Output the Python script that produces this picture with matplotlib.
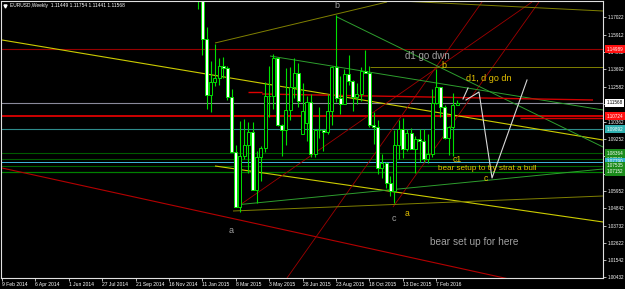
import matplotlib
matplotlib.use("Agg")
import matplotlib.pyplot as plt
import matplotlib.transforms as mtransforms
import numpy as np
import pandas as pd

plt.rcParams['font.family'] = ['Liberation Sans', 'DejaVu Sans']

# ---------------- data ----------------
header = "EURUSD,Weekly  1.11449 1.11754 1.11441 1.11568"
origin = pd.Timestamp("2014-02-09")          # first week on the time axis
bar_weeks = pd.date_range("2015-01-04", "2016-03-13", freq="W-SUN")

opens = [1.1950, 1.1840, 1.1565, 1.1205, 1.1290, 1.1315, 1.1390, 1.1380,
         1.1195, 1.0845, 1.0495, 1.0820, 1.0890, 1.0970, 1.0600, 1.0810, 1.0870,
         1.1200, 1.1200, 1.1445, 1.1015, 1.0985, 1.1110, 1.1260, 1.1350, 1.0955,
         1.1030, 1.1160, 1.0830, 1.0985, 1.0985, 1.0970, 1.1105, 1.1385, 1.1185,
         1.1150, 1.1340, 1.1295, 1.1195, 1.1210, 1.1360, 1.1350, 1.1015,
         1.1005, 1.0740, 1.0770, 1.0645, 1.0595, 1.0885, 1.0990, 1.0865, 1.0965,
         1.0860, 1.0925, 1.0915, 1.0795, 1.0830, 1.1155, 1.1255, 1.1130, 1.0930,
         1.1000, 1.11449]
highs = [1.1979, 1.1868, 1.1643, 1.1423, 1.1534, 1.1444, 1.1450, 1.1390,
         1.1245, 1.0890, 1.1043, 1.1052, 1.1034, 1.1037, 1.0850, 1.0880, 1.1290,
         1.1390, 1.1467, 1.1450, 1.1020, 1.1380, 1.1385, 1.1440, 1.1410, 1.1280,
         1.1200, 1.1215, 1.0990, 1.1130, 1.0990, 1.1215, 1.1390, 1.1714, 1.1330,
         1.1370, 1.1460, 1.1300, 1.1280, 1.1385, 1.1495, 1.1390, 1.1095,
         1.1045, 1.0830, 1.0780, 1.0690, 1.0980, 1.1045, 1.1060, 1.0990, 1.0995,
         1.0945, 1.0990, 1.0990, 1.0960, 1.1245, 1.1375, 1.1260, 1.1145, 1.1010,
         1.1220, 1.11754]
lows = [1.1754, 1.1460, 1.1115, 1.1098, 1.1262, 1.1270, 1.1315, 1.1177,
        1.0840, 1.0494, 1.0462, 1.0795, 1.0712, 1.0600, 1.0520, 1.0660, 1.0845,
        1.1065, 1.1120, 1.1010, 1.0820, 1.0890, 1.1050, 1.1190, 1.1130, 1.0955,
        1.0915, 1.0810, 1.0810, 1.0930, 1.0850, 1.0955, 1.1015, 1.1160, 1.1085,
        1.1150, 1.1270, 1.1105, 1.1150, 1.1170, 1.1350, 1.1000, 1.0895,
        1.0705, 1.0675, 1.0615, 1.0565, 1.0520, 1.0800, 1.0805, 1.0850, 1.0860,
        1.0710, 1.0780, 1.0780, 1.0775, 1.0810, 1.1150, 1.1065, 1.0925, 1.0825,
        1.0820, 1.11441]
closes = [1.1840, 1.1565, 1.1205, 1.1290, 1.1315, 1.1390, 1.1380, 1.1195,
          1.0845, 1.0495, 1.0820, 1.0890, 1.0970, 1.0600, 1.0810, 1.0870, 1.1200,
          1.1200, 1.1445, 1.1015, 1.0985, 1.1110, 1.1260, 1.1350, 1.1165, 1.1105,
          1.1160, 1.0830, 1.0985, 1.0985, 1.0970, 1.1105, 1.1385, 1.1185, 1.1150,
          1.1340, 1.1295, 1.1195, 1.1210, 1.1360, 1.1350, 1.1015, 1.1005,
          1.0740, 1.0770, 1.0645, 1.0595, 1.0885, 1.0990, 1.0865, 1.0965, 1.0860,
          1.0925, 1.0915, 1.0795, 1.0830, 1.1155, 1.1255, 1.1130, 1.0930, 1.1000,
          1.1145, 1.11568]

date_ticks = pd.date_range("2014-02-09", periods=14, freq="56D")
price_ticks = [1.17022, 1.15912, 1.14802, 1.13692, 1.12582, 1.11472, 1.10362,
               1.09252, 1.08142, 1.07032, 1.05952, 1.04842, 1.03732, 1.02622,
               1.01542, 1.00432]

# horizontal price levels
level_prices = [1.14989, 1.11568, 1.10724, 1.09892, 1.08364, 1.07981,
                1.07790, 1.07535, 1.07152]

# trend lines: (week, price) anchor pairs
trend_lines = {
    "yellow_upper": [(0.0, 1.15574), (143.95, 1.09194)],
    "yellow_lower": [(51.02, 1.07535), (143.95, 1.03962)],
    "red_falling": [(0.0, 1.07407), (143.95, 0.99011)],
    "red_rise_a": [(56.29, 1.04919), (126.95, 1.17998)],
    "red_rise_b": [(68.26, 1.00389), (114.97, 1.17998)],
    "red_rise_c": [(93.65, 1.04919), (128.62, 1.17998)],
    "green_from_b": [(80.24, 1.17041), (143.95, 1.08747)],
    "green_upper": [(64.19, 1.14553), (143.95, 1.11108)],
    "green_lower": [(55.81, 1.05047), (143.95, 1.07343)],
    "olive_rise": [(51.02, 1.15382), (92.22, 1.17998)],
    "olive_top": [(95.33, 1.18062), (143.95, 1.17424)],
    "olive_flat": [(88.14, 1.13851), (143.95, 1.13851)],
    "olive_low": [(55.33, 1.04664), (143.95, 1.05621)],
    "red_seg1": [(58.92, 1.12256), (62.28, 1.12256)],
    "red_seg2": [(62.28, 1.12129), (141.56, 1.11746)],
    "red_seg3": [(124.07, 1.10597), (143.95, 1.10597)],
}
zigzags = {
    "stub": [(110.42, 1.11810), (111.62, 1.12511)],
    "path": [(111.14, 1.11746), (114.25, 1.12256), (117.37, 1.06769), (125.75, 1.13022)],
}

# text objects: (text, week, price)
notes = [
    ("b", 80.24, 1.17743),
    ("d1 go dwn", 96.53, 1.14553),
    ("b", 105.87, 1.13915),
    ("d1, d go dn", 111.14, 1.13086),
    ("c1", 108.98, 1.07974),
    ("bear setup to try strat a bull", 104.43, 1.07404),
    ("c", 115.93, 1.06769),
    ("a", 97.01, 1.04536),
    ("c", 93.89, 1.04217),
    ("a", 54.85, 1.03451),
    ("bear set up for here", 102.51, 1.02686),
]

# ---------------- styles ----------------
BG = "black"
CANDLE = "#00e000"
GRAY_TXT = "#a0a0a0"
YEL_TXT = "#e6c200"
line_styles = {
    "yellow_upper": ("#cccc00", 0.8), "yellow_lower": ("#cccc00", 0.8),
    "red_falling": ("#b40000", 0.8),
    "red_rise_a": ("#a00000", 0.6), "red_rise_b": ("#a00000", 0.6), "red_rise_c": ("#a00000", 0.6),
    "green_from_b": ("#2e9e2e", 0.7), "green_upper": ("#2e9e2e", 0.7), "green_lower": ("#2e9e2e", 0.7),
    "olive_rise": ("#808000", 0.7), "olive_top": ("#808000", 0.7),
    "olive_flat": ("#808000", 0.7), "olive_low": ("#808000", 0.7),
    "red_seg1": ("#e00000", 1.0), "red_seg2": ("#d00000", 1.0), "red_seg3": ("#d00000", 1.0),
}
level_styles = [("#960000", 0.8, "#ff1010", "white"),
                ("#8a8a9a", 0.8, "white", "black"),
                ("#dd0000", 1.3, "#ff1010", "white"),
                ("#2e8b8b", 0.8, "#30b0b0", "white"),
                ("#005a00", 0.8, "#1a8a1a", "white"),
                ("#005a00", 0.8, "#1a8a1a", "white"),
                ("#40b8e0", 0.7, "#30b0c8", "white"),
                ("#006400", 0.8, "#1a8a1a", "white"),
                ("#008000", 0.9, "#1a8a1a", "white")]
note_styles = [(GRAY_TXT, 6.5), (GRAY_TXT, 7.0), (YEL_TXT, 6.5), (YEL_TXT, 6.5),
               (YEL_TXT, 6.2), (YEL_TXT, 5.9), (YEL_TXT, 6.2), (YEL_TXT, 6.2),
               (GRAY_TXT, 6.5), (GRAY_TXT, 6.5), (GRAY_TXT, 7.3)]
note_align = ["center", "left", "center", "left", "center", "left",
              "center", "center", "center", "center", "left"]

# ---------------- figure ----------------
W, H = 625, 289
fig = plt.figure(figsize=(W / 100, H / 100), dpi=100, facecolor=BG)
ax = fig.add_axes([1 / W, 11 / H, 602 / W, 277 / H], facecolor=BG)
ax.set_xlim(-0.24, 143.95)
ax.set_ylim(1.00389, 1.18062)

# levels
for p, (col, lw, _, _) in zip(level_prices, level_styles):
    ax.axhline(p, color=col, lw=lw, zorder=1)

# trend lines
for name, pts in trend_lines.items():
    col, lw = line_styles[name]
    xs, ys = zip(*pts)
    ax.plot(xs, ys, color=col, lw=lw, zorder=1.5, solid_capstyle="butt")
for pts in zigzags.values():
    xs, ys = zip(*pts)
    ax.plot(xs, ys, color="#d8d8d8", lw=0.8, zorder=1.6)

# candles
xw = ((bar_weeks - origin).days / 7).values.astype(float)
o = np.array(opens); h = np.array(highs); l = np.array(lows); c = np.array(closes)
ax.vlines(xw, l, h, color=CANDLE, lw=0.8, zorder=2)
bottoms = np.minimum(o, c)
heights = np.abs(c - o)
faces = np.where(c >= o, "black", "white")
ax.bar(xw, heights, bottom=bottoms, width=0.72, color=faces, edgecolor=CANDLE,
       linewidth=0.7, zorder=2.2)

# notes
for (txt, wk, pr), (col, fs), ha in zip(notes, note_styles, note_align):
    ax.text(wk, pr, txt, color=col, fontsize=fs, ha=ha, va="center", zorder=4)

# header
ax.plot([0.007], [0.982], marker="v", ms=2.2, color="white", transform=ax.transAxes,
        clip_on=False, zorder=5)
ax.text(0.0145, 0.982, header, transform=ax.transAxes, color="white",
        fontsize=3.5, ha="left", va="center", zorder=5)

# axes styling
for s in ax.spines.values():
    s.set_color("#e0e0e0")
    s.set_linewidth(0.8)

xt = ((date_ticks - origin).days / 7).values.astype(float)
ax.set_xticks(xt)
ax.set_xticklabels([f"{d.day} {d:%b %Y}" for d in date_ticks], ha="left")
ax.tick_params(axis="x", colors="white", labelsize=3.6, length=2, width=0.5, pad=1)

ax.yaxis.tick_right()
ax.set_yticks(price_ticks)
ax.set_yticklabels([f"{p:.5f}" for p in price_ticks])
ax.tick_params(axis="y", colors="white", labelsize=3.3, length=2, width=0.5, pad=1.2)

# colored price boxes on the right scale
tr = mtransforms.blended_transform_factory(ax.transAxes, ax.transData)
for p, (_, _, box, fg) in zip(level_prices, level_styles):
    ax.text(1.0055, p, f"{p:.5f}", transform=tr, color=fg, fontsize=3.3,
            ha="left", va="center", clip_on=False, zorder=6,
            bbox=dict(boxstyle="square,pad=0.35", fc=box, ec="none"))

fig.savefig("out.png", dpi=100, facecolor=BG)
